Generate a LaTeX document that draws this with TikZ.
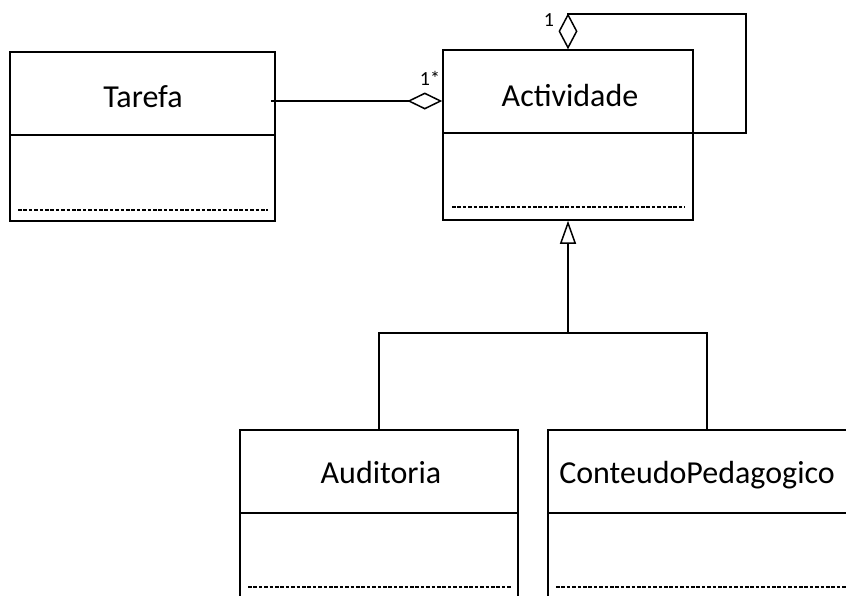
\documentclass[tikz,border=0pt]{standalone}
\usepackage{fontspec}
\setmainfont{Carlito}
\usetikzlibrary{arrows.meta,calc}

\tikzset{
  umlclass/.style={draw, line width=1.5pt, fill=white, inner sep=0pt, rectangle},
  classtitle/.style={anchor=base, inner sep=0pt, font=\fontsize{32}{38}\selectfont},
  multlabel/.style={inner sep=0pt, font=\fontsize{20}{24}\selectfont},
  divider/.style={line width=1.5pt},
  opsline/.style={line width=1.2pt, dash pattern=on 3.6pt off 1.8pt},
  link/.style={line width=1.5pt},
  aggregation/.style={link, -{Diamond[open, length=35pt, width=17pt, line width=1.5pt]}},
  selfagg/.style={link, -{Diamond[open, length=36pt, width=19pt, line width=1.5pt]}},
  inherit/.style={link, -{Triangle[open, length=23pt, width=16pt, line width=1.5pt]}},
}

\begin{document}
\begin{tikzpicture}[x=1pt, y=-1pt]
  \useasboundingbox (0,0) rectangle (846,595);
  \fill[white] (0,0) rectangle (846,595);
  \clip (0,0) rectangle (846,595);

  % class boxes
  \node[umlclass, minimum width=265pt, minimum height=169pt] (tarefa) at (142.5,136.5) {};
  \node[umlclass, minimum width=250pt, minimum height=170pt] (actividade) at (568,135) {};
  \node[umlclass, minimum width=278pt, minimum height=170pt] (auditoria) at (379,515) {};
  \node[umlclass, minimum width=318pt, minimum height=170pt] (conteudo) at (707,515) {};

  % class names
  \node[classtitle] (tarefaname) at (143,107) {Tarefa};
  \node[classtitle] (actividadename) at (570,106) {Actividade};
  \node[classtitle] (auditorianame) at (381,483) {Auditoria};
  \node[classtitle] (conteudoname) at (697,483) {ConteudoPedagogico};

  % compartment dividers and operation lines
  \draw[divider] (tarefa.west |- 0,135) -- (tarefa.east |- 0,135);
  \draw[opsline] (18,210) -- (268,210);
  \draw[divider] (actividade.west |- 0,133) -- (actividade.east |- 0,133);
  \draw[opsline] (452,207) -- (685,207);
  \draw[divider] (auditoria.west |- 0,513) -- (auditoria.east |- 0,513);
  \draw[opsline] (248,587) -- (511,587);
  \draw[divider] (conteudo.west |- 0,513) -- (conteudo.east |- 0,513);
  \draw[opsline] (556,587) -- (850,587);

  % aggregation Tarefa -> Actividade
  \coordinate (assocstart) at ([xshift=-5pt]tarefa.east |- 0,101);
  \draw[aggregation] (assocstart) -- (actividade.west |- assocstart);
  \node[multlabel] (multmany) at (430,78) {1*};

  % self aggregation on Actividade
  \coordinate (loopcorner) at (746,14);
  \draw[selfagg] (actividade.east |- 0,133) -| (loopcorner) -| (actividade.north);
  \node[multlabel] (multone) at (549,20) {1};

  % generalisation
  \coordinate (junction) at (actividade.south |- 0,333);
  \draw[link] (auditoria.north) |- (junction) -| (conteudo.north);
  \draw[inherit] (junction) -- (actividade.south);
\end{tikzpicture}
\end{document}
